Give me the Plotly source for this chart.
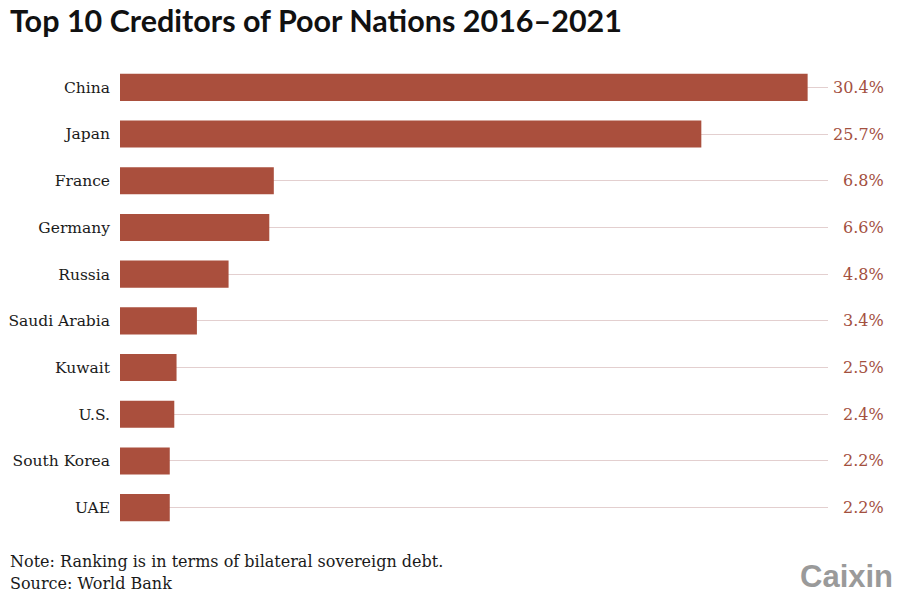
import plotly.graph_objects as go

countries = ["China", "Japan", "France", "Germany", "Russia", "Saudi Arabia",
             "Kuwait", "U.S.", "South Korea", "UAE"]
shares = [30.4, 25.7, 6.8, 6.6, 4.8, 3.4, 2.5, 2.4, 2.2, 2.2]
labels = [f"{v:.1f}%" for v in shares]

BAR = "#aa4f3d"
VAL = "#a3503f"
SERIF = "DejaVu Serif"

fig = go.Figure()
fig.add_trace(go.Bar(
    x=shares, y=countries, orientation="h",
    marker=dict(color=BAR, line=dict(width=0)),
    width=0.58, hoverinfo="skip",
))

for c, t in zip(countries, labels):
    fig.add_annotation(x=1, xref="paper", y=c, yref="y", text=t,
                       showarrow=False, xanchor="right", xshift=58,
                       font=dict(family=SERIF, size=16, color=VAL))

fig.add_annotation(x=0, xref="paper", xshift=-112, y=1, yref="paper", yshift=44,
                   text="<b>Top 10 Creditors of Poor Nations 2016–2021</b>",
                   showarrow=False, xanchor="left", yanchor="middle",
                   font=dict(family="Lato", size=30.5, color="#111111"))
fig.add_annotation(x=0, xref="paper", xshift=-112, y=0, yref="paper", yshift=-30,
                   text="Note: Ranking is in terms of bilateral sovereign debt.",
                   showarrow=False, xanchor="left", yanchor="middle",
                   font=dict(family=SERIF, size=16, color="#1a1a1a"))
fig.add_annotation(x=0, xref="paper", xshift=-112, y=0, yref="paper", yshift=-52,
                   text="Source: World Bank",
                   showarrow=False, xanchor="left", yanchor="middle",
                   font=dict(family=SERIF, size=16, color="#1a1a1a"))
fig.add_annotation(x=1, xref="paper", xshift=67, y=0, yref="paper", yshift=-45,
                   text="<b>Caixin</b>",
                   showarrow=False, xanchor="right", yanchor="middle",
                   font=dict(family="Liberation Sans", size=31, color="#9a9a9a"))

fig.update_layout(
    width=892, height=591,
    margin=dict(l=112, r=72, t=56, b=68, autoexpand=False),
    plot_bgcolor="white", paper_bgcolor="white",
    showlegend=False,
    xaxis=dict(range=[0, 31.3], showgrid=False, showticklabels=False,
               zeroline=False, showline=False, fixedrange=True,
               automargin=False),
    yaxis=dict(categoryorder="array", categoryarray=countries[::-1],
               showgrid=True, gridcolor="#e3cfcf", gridwidth=1,
               ticks="", ticklabelstandoff=9, showline=False, zeroline=False,
               automargin=False,
               tickfont=dict(family=SERIF, size=15.5, color="#1a1a1a")),
)

fig.write_html("out.html")
